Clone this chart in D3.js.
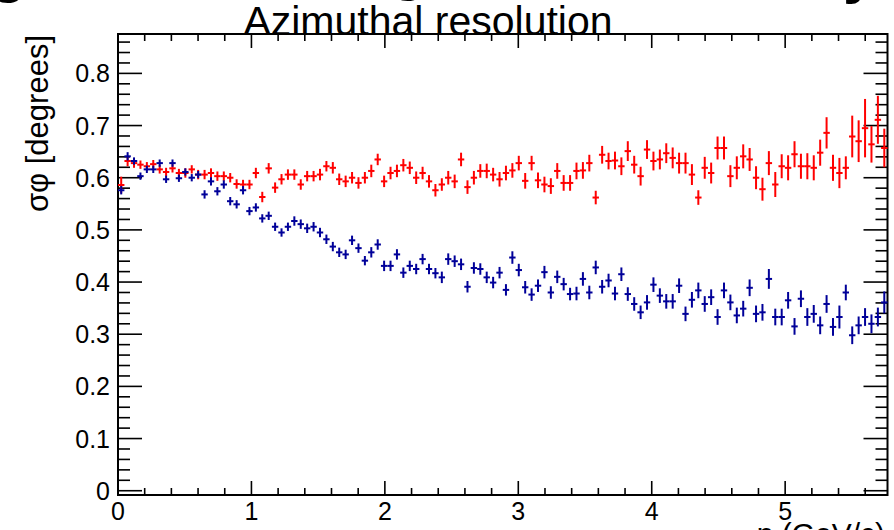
<!DOCTYPE html>
<html>
<head>
<meta charset="utf-8">
<script src="https://cdn.jsdelivr.net/npm/d3@7"></script>
<style>
body { margin: 0; background: #fff; }
svg { display: block; font-family: "Liberation Sans", Arial, sans-serif; }
</style>
</head>
<body>
<svg width="894" height="530"></svg>
<script>
// histogram: 120 bins over the axis range
const xRange = [0, 5.767]
const nBins = 120

const redValues = [
	0.586, 0.632, 0.628, 0.625, 0.622, 0.626, 0.616, 0.611, 0.618, 0.609,
	0.609, 0.616, 0.606, 0.606, 0.609, 0.603, 0.603, 0.600, 0.588, 0.587,
	0.587, 0.609, 0.563, 0.618, 0.581, 0.597, 0.606, 0.606, 0.587, 0.603,
	0.603, 0.606, 0.622, 0.619, 0.597, 0.593, 0.600, 0.590, 0.600, 0.613,
	0.635, 0.593, 0.609, 0.613, 0.624, 0.619, 0.600, 0.609, 0.593, 0.576,
	0.587, 0.600, 0.593, 0.635, 0.582, 0.600, 0.613, 0.613, 0.606, 0.597,
	0.609, 0.614, 0.628, 0.594, 0.628, 0.595, 0.587, 0.584, 0.613, 0.590,
	0.590, 0.613, 0.614, 0.628, 0.562, 0.644, 0.632, 0.633, 0.622, 0.651,
	0.625, 0.603, 0.654, 0.632, 0.635, 0.647, 0.638, 0.628, 0.628, 0.606,
	0.562, 0.619, 0.609, 0.657, 0.657, 0.603, 0.619, 0.641, 0.635, 0.600,
	0.578, 0.628, 0.587, 0.622, 0.619, 0.645, 0.622, 0.622, 0.619, 0.648,
	0.686, 0.619, 0.609, 0.619, 0.679, 0.670, 0.695, 0.664, 0.711, 0.657
]
const redErrors = [
	0.016, 0.010, 0.009, 0.008, 0.008, 0.008, 0.008, 0.008, 0.008, 0.008,
	0.009, 0.008, 0.009, 0.009, 0.009, 0.009, 0.009, 0.009, 0.009, 0.009,
	0.009, 0.010, 0.010, 0.010, 0.010, 0.010, 0.010, 0.010, 0.010, 0.010,
	0.010, 0.011, 0.010, 0.011, 0.011, 0.011, 0.011, 0.011, 0.011, 0.012,
	0.011, 0.011, 0.012, 0.012, 0.012, 0.012, 0.012, 0.012, 0.012, 0.012,
	0.012, 0.013, 0.013, 0.013, 0.013, 0.013, 0.013, 0.014, 0.013, 0.014,
	0.014, 0.014, 0.014, 0.015, 0.014, 0.015, 0.015, 0.015, 0.015, 0.015,
	0.015, 0.016, 0.016, 0.016, 0.013, 0.017, 0.016, 0.017, 0.017, 0.019,
	0.017, 0.018, 0.018, 0.018, 0.019, 0.019, 0.020, 0.020, 0.020, 0.020,
	0.014, 0.021, 0.020, 0.022, 0.022, 0.021, 0.022, 0.023, 0.022, 0.022,
	0.022, 0.023, 0.024, 0.023, 0.024, 0.025, 0.024, 0.025, 0.024, 0.025,
	0.030, 0.025, 0.029, 0.022, 0.040, 0.040, 0.056, 0.035, 0.046, 0.037
]
const blueValues = [
	0.576, 0.641, 0.632, 0.603, 0.616, 0.616, 0.628, 0.597, 0.628, 0.599,
	0.611, 0.600, 0.606, 0.568, 0.593, 0.574, 0.587, 0.555, 0.549, 0.576,
	0.536, 0.543, 0.522, 0.527, 0.506, 0.495, 0.506, 0.517, 0.511, 0.503,
	0.506, 0.495, 0.482, 0.468, 0.457, 0.453, 0.480, 0.465, 0.441, 0.457,
	0.472, 0.431, 0.431, 0.453, 0.418, 0.431, 0.425, 0.444, 0.425, 0.417,
	0.409, 0.444, 0.440, 0.434, 0.391, 0.427, 0.425, 0.409, 0.399, 0.418,
	0.385, 0.447, 0.423, 0.390, 0.376, 0.393, 0.419, 0.380, 0.410, 0.396,
	0.377, 0.378, 0.406, 0.380, 0.428, 0.391, 0.403, 0.378, 0.415, 0.377,
	0.358, 0.342, 0.361, 0.395, 0.374, 0.363, 0.363, 0.393, 0.339, 0.366,
	0.384, 0.358, 0.371, 0.333, 0.384, 0.361, 0.336, 0.349, 0.389, 0.339,
	0.342, 0.406, 0.333, 0.333, 0.365, 0.315, 0.368, 0.333, 0.339, 0.317,
	0.358, 0.314, 0.333, 0.380, 0.298, 0.317, 0.333, 0.320, 0.333, 0.361
]
const blueErrors = [
	0.008, 0.008, 0.007, 0.007, 0.007, 0.007, 0.007, 0.007, 0.007, 0.007,
	0.007, 0.007, 0.007, 0.008, 0.008, 0.008, 0.008, 0.008, 0.008, 0.008,
	0.008, 0.008, 0.008, 0.008, 0.008, 0.008, 0.008, 0.009, 0.009, 0.009,
	0.009, 0.009, 0.009, 0.009, 0.009, 0.009, 0.009, 0.009, 0.009, 0.010,
	0.010, 0.010, 0.010, 0.010, 0.010, 0.010, 0.010, 0.010, 0.010, 0.010,
	0.011, 0.011, 0.011, 0.011, 0.011, 0.011, 0.011, 0.011, 0.011, 0.011,
	0.011, 0.012, 0.012, 0.012, 0.012, 0.012, 0.012, 0.012, 0.012, 0.012,
	0.012, 0.013, 0.013, 0.013, 0.013, 0.013, 0.013, 0.013, 0.013, 0.013,
	0.013, 0.013, 0.014, 0.014, 0.014, 0.014, 0.014, 0.014, 0.014, 0.015,
	0.015, 0.015, 0.015, 0.015, 0.015, 0.015, 0.015, 0.015, 0.016, 0.016,
	0.016, 0.019, 0.016, 0.016, 0.016, 0.016, 0.016, 0.017, 0.017, 0.017,
	0.017, 0.017, 0.022, 0.015, 0.017, 0.017, 0.017, 0.018, 0.018, 0.021
]

const xTickLabels = [0, 1, 2, 3, 4, 5]
const yTickLabels = [0, 0.1, 0.2, 0.3, 0.4, 0.5, 0.6, 0.7, 0.8]

const titleText = 'Azimuthal resolution'
const yTitle = 'σφ [degrees]'
const xTitle = 'p (GeV/c)'

let svg = d3.select('svg')

let x0 = 118, x1 = 887.5
let y0 = 34, y1 = 495

let x = d3.scaleLinear().domain(xRange).range([x0, x1])
let y = d3.scaleLinear().domain([-0.0082, 0.8755]).range([y1, y0])

let binW = (xRange[1] - xRange[0]) / nBins

// big slide heading, cut by the top edge: only descenders show
let heading = svg.append('g').attr('id', 'heading')
	.style('font-weight', 'bold').style('font-size', '60px').style('fill', 'black')
heading.append('text').attr('x', -10).attr('y', -9).text('g')
heading.append('text').attr('x', 390).attr('y', -11).text('g')
heading.append('text').attr('x', 843).attr('y', -8).text('y')

// frame
svg.append('rect')
	.attr('x', x0).attr('y', y0)
	.attr('width', x1 - x0).attr('height', y1 - y0)
	.attr('fill', 'none').attr('stroke', 'black').attr('stroke-width', 2)

let ticks = svg.append('g').attr('id', 'ticks')
	.attr('stroke', 'black').attr('stroke-width', 1.6)

let yMinor = d3.range(0, 0.87, 0.02)
yMinor.forEach(function(v) {
	let major = Math.abs(v * 10 - Math.round(v * 10)) < 1e-6
	let len = major ? 24 : 12
	ticks.append('line')
		.attr('x1', x0).attr('x2', x0 + len)
		.attr('y1', y(v)).attr('y2', y(v))
	ticks.append('line')
		.attr('x1', x1).attr('x2', x1 - len)
		.attr('y1', y(v)).attr('y2', y(v))
})

let xMinor = d3.range(0, 5.76, 0.2)
xMinor.forEach(function(v) {
	let major = Math.abs(v - Math.round(v)) < 1e-6
	let len = major ? 14 : 7
	ticks.append('line')
		.attr('x1', x(v)).attr('x2', x(v))
		.attr('y1', y1).attr('y2', y1 - len)
	ticks.append('line')
		.attr('x1', x(v)).attr('x2', x(v))
		.attr('y1', y0).attr('y2', y0 + len)
})

// tick labels
svg.append('g').selectAll('text')
	.data(yTickLabels).enter().append('text')
	.attr('x', 110).attr('y', d => y(d))
	.attr('dy', '0.36em')
	.attr('text-anchor', 'end')
	.style('font-size', '25px')
	.text(d => d3.format('')(d))

svg.append('g').selectAll('text')
	.data(xTickLabels).enter().append('text')
	.attr('x', d => x(d)).attr('y', 520)
	.attr('text-anchor', 'middle')
	.style('font-size', '25px')
	.text(d => d)

// titles
svg.append('text')
	.attr('x', 428).attr('y', 35)
	.attr('text-anchor', 'middle')
	.style('font-size', '41px')
	.text(titleText)

svg.append('text')
	.attr('transform', 'translate(48, 35) rotate(-90)')
	.attr('text-anchor', 'end')
	.style('font-size', '31px')
	.text(yTitle)

svg.append('text')
	.attr('x', 885).attr('y', 544)
	.attr('text-anchor', 'end')
	.style('font-size', '30px')
	.text(xTitle)

// data points with error bars
function drawSeries(values, errors, colour, id) {
	let g = svg.append('g').attr('id', id)
		.attr('stroke', colour).attr('stroke-width', 2)
	values.forEach(function(v, i) {
		let c = xRange[0] + (i + 0.5) * binW
		g.append('line')
			.attr('x1', x(c - binW / 2)).attr('x2', x(c + binW / 2))
			.attr('y1', y(v)).attr('y2', y(v))
		g.append('line')
			.attr('x1', x(c)).attr('x2', x(c))
			.attr('y1', y(v - errors[i])).attr('y2', y(v + errors[i]))
	})
}

drawSeries(redValues, redErrors, '#ff0000', 'red')
drawSeries(blueValues, blueErrors, '#000099', 'blue')
</script>
</body>
</html>
